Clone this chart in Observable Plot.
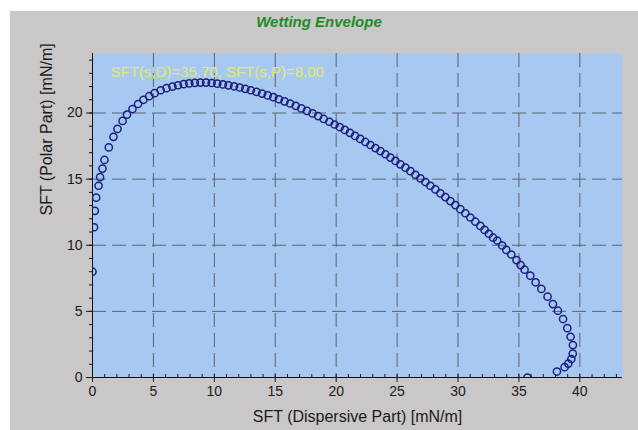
<!DOCTYPE html>
<html>
<head>
<meta charset="utf-8">
<script src="https://cdn.jsdelivr.net/npm/d3@7"></script>
<script src="https://cdn.jsdelivr.net/npm/@observablehq/plot@0.6"></script>
<style>
  html, body { margin: 0; padding: 0; background: #ffffff; }
  #wrap { position: relative; width: 638px; height: 430px; background: #ffffff; overflow: hidden; }
  #panel { position: absolute; left: 10px; top: 11px; width: 628px; height: 419px; background: #c9c7c7; }
  #title { position: absolute; left: 0; width: 638px; top: 13px; text-align: center;
           font: italic bold 15px "Liberation Sans", Arial, sans-serif; line-height: 18px; color: #1e8c28; }
  #chart { position: absolute; left: 0; top: 0; }
</style>
</head>
<body>
<div id="wrap">
  <div id="panel"></div>
  <div id="chart"></div>
  <div id="title">Wetting Envelope</div>
</div>
<script>
const titleText = "Wetting Envelope";
const xLabel = "SFT (Dispersive Part) [mN/m]";
const yLabel = "SFT (Polar Part) [mN/m]";
const note = "SFT(s,D)=35.70, SFT(s,P)=8.00";

const xTicks = [0, 5, 10, 15, 20, 25, 30, 35, 40];
const yTicks = [0, 5, 10, 15, 20];

// dispersive part of envelope points (x)
const sftD = [
  0, 0.13, 0.19, 0.3, 0.5, 0.62, 0.82, 0.98, 1.34, 1.72, 2.05, 2.47, 2.83, 3.28, 3.74, 4.18, 4.65, 5.1, 5.6, 6.08, 6.56,
  7.02, 7.48, 7.94, 8.40, 8.86, 9.32, 9.78, 10.24, 10.70, 11.16, 11.62, 12.08, 12.54, 13.00, 13.46, 13.92, 14.38, 14.84,
  15.30, 15.76, 16.22, 16.68, 17.14, 17.60, 18.06, 18.52, 18.98, 19.44,
  19.87, 20.29, 20.71, 21.13, 21.55, 21.97, 22.39, 22.81, 23.22, 23.63, 24.04, 24.45, 24.86, 25.27, 25.68, 26.09, 26.5,
  26.91, 27.32, 27.73, 28.14, 28.55, 28.96, 29.37, 29.78, 30.19, 30.6, 31.01, 31.42, 31.83, 32.18, 32.53, 32.88,
  33.22, 33.63, 33.96, 34.37, 34.8, 35.14, 35.46, 35.93, 36.37, 36.84, 37.35, 37.79, 38.2, 38.62, 38.97, 39.24, 39.43,
  39.42, 39.3, 39.05, 38.75, 38.12, 35.7
];
// polar part of envelope points (y)
const sftP = [
  8.0, 11.36, 12.6, 13.6, 14.5, 15.15, 15.8, 16.45, 17.4, 18.2, 18.8, 19.4, 19.88, 20.3, 20.68, 21.0, 21.27, 21.5, 21.72, 21.88, 22.0,
  22.1, 22.18, 22.24, 22.28, 22.3, 22.3, 22.27, 22.22, 22.16, 22.09, 22.02, 21.93, 21.83, 21.72, 21.6, 21.47, 21.33, 21.2,
  21.04, 20.88, 20.72, 20.54, 20.35, 20.16, 19.97, 19.77, 19.55, 19.34,
  19.13, 18.93, 18.72, 18.5, 18.27, 18.04, 17.81, 17.58, 17.35, 17.12, 16.88, 16.63, 16.38, 16.12, 15.87, 15.6, 15.33,
  15.06, 14.78, 14.5, 14.22, 13.93, 13.64, 13.34, 13.04, 12.73, 12.42, 12.1, 11.78, 11.46, 11.16, 10.87, 10.57,
  10.36, 9.98, 9.65, 9.3, 8.88, 8.5, 8.15, 7.7, 7.2, 6.7, 6.11, 5.55, 5.05, 4.42, 3.73, 3.08, 2.45,
  1.8, 1.4, 1.05, 0.78, 0.45, 0.0
];

const points = sftD.map((d, i) => ({d, p: sftP[i]}));
const minorX = d3.range(0, 44);
const minorY = d3.range(0, 25);
const gridX = xTicks.filter(v => v > 0);
const gridY = yTicks.filter(v => v > 0);

document.getElementById("title").textContent = titleText;

const font = '"Liberation Sans", Arial, sans-serif';
const chart = Plot.plot({
  width: 638,
  height: 430,
  marginLeft: 92,
  marginRight: 16,
  marginTop: 53,
  marginBottom: 53,
  style: {background: "transparent", fontFamily: font, fontSize: "14px", color: "#1a1a1a"},
  x: {domain: [0, 43.5]},
  y: {domain: [0, 24.5]},
  marks: [
    Plot.frame({fill: "#a7c9f1", stroke: null}),
    Plot.ruleX(gridX, {stroke: "#5a6470", strokeWidth: 1, strokeDasharray: "14,6"}),
    Plot.ruleY(gridY, {stroke: "#5a6470", strokeWidth: 1, strokeDasharray: "14,6"}),
    Plot.axisY(minorY, {tickSize: 3, tickFormat: () => "", label: null, stroke: "#1a1a1a"}),
    Plot.axisY(yTicks, {tickSize: 6, tickPadding: 4, label: null, fontSize: 14, stroke: "#1a1a1a"}),
    Plot.axisX(minorX, {tickSize: 3, dy: -3, tickFormat: () => "", label: null, stroke: "#1a1a1a"}),
    Plot.axisX(xTicks, {tickSize: 5, tickPadding: 4, label: null, fontSize: 14, stroke: "#1a1a1a"}),
    Plot.ruleX([0], {stroke: "#111"}),
    Plot.ruleY([0], {stroke: "#111"}),
    Plot.dot(points, {x: "d", y: "p", r: 3.6, stroke: "#1c1f80", strokeWidth: 1.5, fill: "none", clip: true}),
    Plot.text([note], {frameAnchor: "top-left", dx: 18, dy: 19, lineAnchor: "middle", textAnchor: "start",
                       fontSize: 15, fill: "#e3ec64", fontFamily: font}),
    Plot.text([xLabel], {frameAnchor: "bottom", dy: 39, lineAnchor: "middle", fontSize: 16, fill: "#1a1a1a", fontFamily: font}),
    Plot.text([yLabel], {frameAnchor: "left", dx: -46, rotate: -90, lineAnchor: "middle", fontSize: 16, fill: "#1a1a1a", fontFamily: font})
  ]
});
document.getElementById("chart").appendChild(chart);
</script>
</body>
</html>
